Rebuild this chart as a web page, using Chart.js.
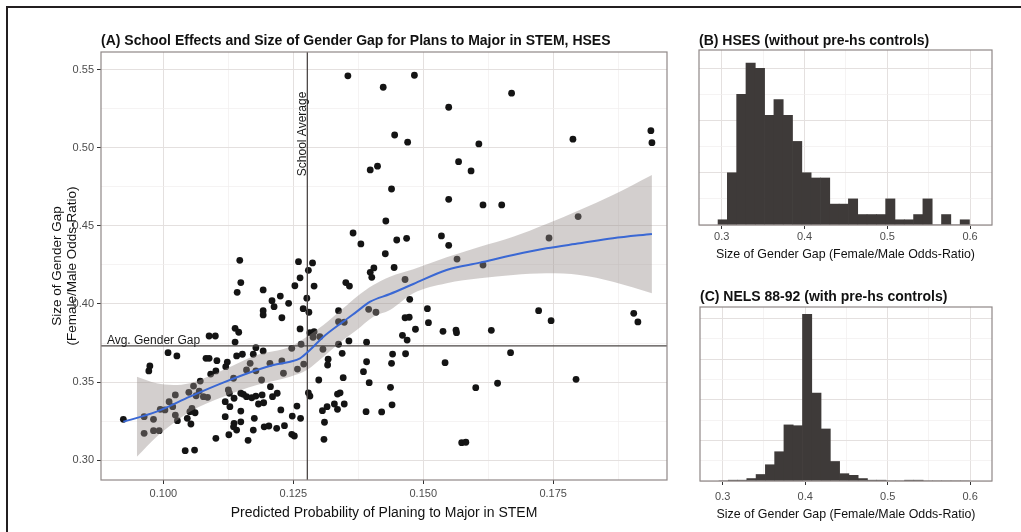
<!DOCTYPE html>
<html>
<head>
<meta charset="utf-8">
<script src="https://cdn.jsdelivr.net/npm/chart.js@4.4.1/dist/chart.umd.min.js"></script>
<style>
  html, body { margin: 0; padding: 0; background: #fff; }
  body { width: 1021px; height: 532px; position: relative; overflow: hidden; }
  canvas { position: absolute; }
  #frame { position: absolute; left: 6px; top: 6px; width: 1100px; height: 600px;
           border-left: 2.4px solid #231f20; border-top: 2.4px solid #231f20; }
</style>
</head>
<body>
<div id="frame"></div>
<canvas id="chartA" width="680" height="532" style="left:0;top:0"></canvas>
<canvas id="chartB" width="341" height="270" style="left:680px;top:0"></canvas>
<canvas id="chartC" width="341" height="262" style="left:680px;top:270px"></canvas>
<script>
// panel A: one point per school
const schoolX = [
  0.1355, 0.1423, 0.1398, 0.1412, 0.1439, 0.1428, 0.1365, 0.1380, 0.1427, 0.1147,
  0.1260, 0.1287, 0.1279, 0.1263, 0.1398, 0.1405, 0.1483, 0.1670, 0.1549, 0.1445,
  0.1470, 0.1607, 0.1788, 0.1938, 0.1940, 0.1568, 0.1592, 0.1549, 0.1615, 0.1651,
  0.1535, 0.1549, 0.1449, 0.1468, 0.1565, 0.1615, 0.1742, 0.1798, 0.1444, 0.1465,
  0.1474, 0.1508, 0.1510, 0.1465, 0.1473, 0.1485, 0.1460, 0.1469, 0.1538, 0.1563,
  0.1564, 0.1631, 0.1722, 0.1746, 0.1905, 0.1913, 0.1441, 0.1439, 0.1466, 0.1542,
  0.1668, 0.1794, 0.1437, 0.1601, 0.1643, 0.1440, 0.1420, 0.1574, 0.1582, 0.1253,
  0.1290, 0.1149, 0.1142, 0.1192, 0.1276, 0.1225, 0.1209, 0.1213, 0.1241, 0.1269,
  0.1280, 0.1192, 0.1192, 0.1228, 0.1401, 0.1351, 0.1358, 0.1337, 0.1395, 0.1409,
  0.1337, 0.1348, 0.1337, 0.1357, 0.1391, 0.1138, 0.1145, 0.1138, 0.1088, 0.1100,
  0.1263, 0.1282, 0.1290, 0.1301, 0.1288, 0.1265, 0.1247, 0.1192, 0.1178, 0.1173,
  0.1152, 0.1141, 0.1009, 0.1026, 0.0974, 0.0972, 0.1082, 0.1088, 0.1103, 0.1123,
  0.1120, 0.1101, 0.1091, 0.1307, 0.1317, 0.1316, 0.1344, 0.1270, 0.1258, 0.1231,
  0.1228, 0.1205, 0.1189, 0.1178, 0.1160, 0.1167, 0.1135, 0.1125, 0.1127, 0.1071,
  0.1058, 0.1049, 0.1063, 0.1077, 0.1085, 0.1069, 0.1055, 0.1051, 0.1023, 0.1011,
  0.1018, 0.1003, 0.0994, 0.0981, 0.0963, 0.0981, 0.0992, 0.0963, 0.0923, 0.1023,
  0.1027, 0.1046, 0.1053, 0.1061, 0.1042, 0.1060, 0.1101, 0.1126, 0.1119, 0.1119,
  0.1128, 0.1136, 0.1149, 0.1154, 0.1160, 0.1170, 0.1178, 0.1190, 0.1183, 0.1193,
  0.1210, 0.1219, 0.1206, 0.1149, 0.1136, 0.1135, 0.1141, 0.1149, 0.1175, 0.1173,
  0.1194, 0.1203, 0.1218, 0.1233, 0.1226, 0.1248, 0.1264, 0.1247, 0.1252, 0.1257,
  0.1163, 0.1279, 0.1282, 0.1299, 0.1306, 0.1310, 0.1309, 0.1315, 0.1329, 0.1335,
  0.1335, 0.1340, 0.1348, 0.1346, 0.1390, 0.1385, 0.1396, 0.1391
];
const schoolY = [
  0.5462, 0.5389, 0.4859, 0.4883, 0.4737, 0.4532, 0.4455, 0.4385, 0.4322, 0.4280,
  0.4271, 0.4263, 0.4216, 0.4168, 0.4203, 0.4231, 0.5466, 0.5351, 0.5261, 0.5083,
  0.5037, 0.5026, 0.5056, 0.5111, 0.5034, 0.4912, 0.4853, 0.4671, 0.4635, 0.4635,
  0.4436, 0.4376, 0.4410, 0.4421, 0.4288, 0.4250, 0.4423, 0.4560, 0.4234, 0.4157,
  0.4030, 0.3970, 0.3880, 0.3912, 0.3915, 0.3838, 0.3799, 0.3769, 0.3825, 0.3833,
  0.3816, 0.3831, 0.3957, 0.3893, 0.3940, 0.3885, 0.3679, 0.3620, 0.3681, 0.3624,
  0.3688, 0.3517, 0.3466, 0.3464, 0.3492, 0.3354, 0.3308, 0.3111, 0.3114, 0.4117,
  0.4115, 0.4137, 0.4075, 0.4090, 0.4037, 0.4051, 0.4021, 0.3983, 0.4004, 0.3970,
  0.3947, 0.3957, 0.3930, 0.3912, 0.4171, 0.4137, 0.4115, 0.3957, 0.3966, 0.3947,
  0.3887, 0.3883, 0.3742, 0.3763, 0.3755, 0.3844, 0.3819, 0.3756, 0.3795, 0.3795,
  0.3840, 0.3816, 0.3822, 0.3790, 0.3787, 0.3742, 0.3716, 0.3699, 0.3720, 0.3678,
  0.3678, 0.3667, 0.3688, 0.3667, 0.3603, 0.3571, 0.3652, 0.3652, 0.3637, 0.3628,
  0.3598, 0.3571, 0.3551, 0.3710, 0.3646, 0.3609, 0.3684, 0.3615, 0.3583, 0.3556,
  0.3635, 0.3620, 0.3513, 0.3572, 0.3577, 0.3620, 0.3524, 0.3449, 0.3428, 0.3506,
  0.3474, 0.3434, 0.3412, 0.3406, 0.3402, 0.3442, 0.3331, 0.3310, 0.3417, 0.3374,
  0.3342, 0.3321, 0.3325, 0.3261, 0.3278, 0.3188, 0.3188, 0.3171, 0.3261, 0.3288,
  0.3252, 0.3267, 0.3231, 0.3303, 0.3060, 0.3064, 0.3139, 0.3162, 0.3278, 0.3374,
  0.3342, 0.3396, 0.3428, 0.3421, 0.3406, 0.3399, 0.3410, 0.3417, 0.3359, 0.3367,
  0.3406, 0.3428, 0.3470, 0.3314, 0.3235, 0.3213, 0.3192, 0.3245, 0.3267, 0.3192,
  0.3213, 0.3218, 0.3203, 0.3220, 0.3321, 0.3282, 0.3267, 0.3165, 0.3154, 0.3346,
  0.3126, 0.3431, 0.3410, 0.3513, 0.3316, 0.3242, 0.3133, 0.3342, 0.3359, 0.3325,
  0.3423, 0.3431, 0.3359, 0.3528, 0.3310, 0.3566, 0.3496, 0.3630
];

// smoothed fit and its confidence band
const fitX = [0.0923, 0.0987, 0.1051, 0.1115, 0.1180, 0.1212, 0.1244, 0.1263, 0.1282, 0.1308, 0.1346,
              0.1372, 0.1398, 0.1436, 0.1481, 0.1545, 0.1609, 0.1673, 0.1737, 0.1801, 0.1865, 0.1940];
const fitY = [0.3245, 0.3310, 0.3406, 0.3496, 0.3577, 0.3609, 0.3630, 0.3652, 0.3705, 0.3790, 0.3887,
              0.3951, 0.4015, 0.4064, 0.4128, 0.4218, 0.4265, 0.4314, 0.4357, 0.4389, 0.4421, 0.4449];
const bandX = [0.0949, 0.0987, 0.1019, 0.1051, 0.1115, 0.1180, 0.1244, 0.1276, 0.1308, 0.1346, 0.1372,
               0.1404, 0.1436, 0.1481, 0.1545, 0.1609, 0.1673, 0.1737, 0.1801, 0.1865, 0.1940];
const bandHigh = [0.3534, 0.3492, 0.3481, 0.3492, 0.3577, 0.3673, 0.3726, 0.3790, 0.3865, 0.3972, 0.4047,
                  0.4122, 0.4175, 0.4222, 0.4299, 0.4367, 0.4431, 0.4513, 0.4603, 0.4699, 0.4827];
const bandLow = [0.3021, 0.3149, 0.3235, 0.3310, 0.3406, 0.3481, 0.3534, 0.3577, 0.3662, 0.3769, 0.3833,
                 0.3919, 0.3962, 0.4069, 0.4133, 0.4165, 0.4186, 0.4197, 0.4186, 0.4143, 0.4069];

const schoolAverage = 0.1277;
const avgGenderGap = 0.3731;

const xMajorA = [0.100, 0.125, 0.150, 0.175];
const xMinorA = [0.1125, 0.1375, 0.1625, 0.1875];
const yMajorA = [0.30, 0.35, 0.40, 0.45, 0.50, 0.55];
const yMinorA = [0.325, 0.375, 0.425, 0.475, 0.525];

// panels B and C: histograms on shared bins
const binCenters = [0.30113, 0.31238, 0.32363, 0.33488, 0.34613, 0.35738, 0.36863, 0.37988, 0.39113,
                    0.40238, 0.41363, 0.42488, 0.43613, 0.44738, 0.45863, 0.46988, 0.48113, 0.49238,
                    0.50363, 0.51488, 0.52613, 0.53738, 0.54863, 0.55988, 0.57113, 0.58238, 0.59363];
const hsesCounts = [1, 10, 25, 31, 30, 21, 24, 21, 16, 10, 9, 9, 4, 4, 5, 2, 2, 2, 5, 1, 1, 2, 5, 0, 2, 0, 1];
const nelsCounts = [0, 1, 1, 3, 8, 20, 36, 69, 68, 205, 108, 64, 24, 9, 7, 3, 1, 1, 0, 0, 1, 1, 0, 0, 0, 0, 0];

const xMajorH = [0.3, 0.4, 0.5, 0.6];
const xMinorH = [0.35, 0.45, 0.55];
const yGridB = [0, 5, 10, 15, 20, 25, 30];
const yMajorB = [0, 10, 20, 30];
const yGridC = [0, 25, 50, 75, 100, 125, 150, 175, 200];
const yMajorC = [0, 50, 100, 150, 200];

const FONT = "'Liberation Sans', Arial, Helvetica, sans-serif";
Chart.defaults.font.family = FONT;

const near = (v, arr) => arr.some(m => Math.abs(m - v) < 1e-9);
const gridColor = majors => c => (c.tick && near(c.tick.value, majors)) ? '#e4e0df' : '#f0eeee';
const gridWidth = majors => c => (c.tick && near(c.tick.value, majors)) ? 1 : 0.7;
const tickColor = majors => c => (c.tick && near(c.tick.value, majors)) ? '#333' : 'rgba(0,0,0,0)';

const decor = {
  id: 'decor',
  beforeDatasetDraw(chart, args, o) {
    // reference lines sit under the fitted line
    if (args.index !== 0 || o.vline === undefined) return;
    const {ctx, chartArea: a, scales: {x, y}} = chart;
    const px = x.getPixelForValue(o.vline);
    const py = y.getPixelForValue(o.hline);
    ctx.save();
    ctx.strokeStyle = '#4d4847';
    ctx.lineWidth = 1.3;
    ctx.beginPath();
    ctx.moveTo(px, a.top); ctx.lineTo(px, a.bottom);
    ctx.moveTo(a.left, py); ctx.lineTo(a.right, py);
    ctx.stroke();
    ctx.restore();
  },
  afterDatasetsDraw(chart, args, o) {
    if (o.vline === undefined) return;
    const {ctx, scales: {x, y}} = chart;
    const px = x.getPixelForValue(o.vline);
    const py = y.getPixelForValue(o.hline);
    ctx.save();
    ctx.fillStyle = '#1a1a1a';
    ctx.font = '12px ' + FONT;
    ctx.textAlign = 'center';
    ctx.textBaseline = 'alphabetic';
    ctx.fillText(o.hlineLabel, x.getPixelForValue(o.hlineLabelX), py - 2);
    ctx.translate(px - 1, y.getPixelForValue(o.vlineLabelY));
    ctx.rotate(-Math.PI / 2);
    ctx.fillText(o.vlineLabel, 0, 0);
    ctx.restore();
  },
  afterDraw(chart, args, o) {
    const {ctx, chartArea: a} = chart;
    ctx.save();
    ctx.strokeStyle = '#8f8887';
    ctx.lineWidth = 1.2;
    ctx.strokeRect(a.left, a.top, a.right - a.left, a.bottom - a.top);
    ctx.fillStyle = '#111';
    ctx.font = 'bold 14px ' + FONT;
    ctx.textAlign = 'left';
    ctx.textBaseline = 'alphabetic';
    ctx.fillText(o.title, a.left, a.top - o.titleGap);
    ctx.restore();
  }
};

new Chart(document.getElementById('chartA'), {
  type: 'scatter',
  data: {
    datasets: [
      {
        type: 'line',
        data: fitX.map((x, i) => ({x, y: fitY[i]})),
        borderColor: '#3a68d4',
        borderWidth: 2,
        pointRadius: 0,
        fill: false,
        cubicInterpolationMode: 'monotone'
      },
      {
        type: 'line',
        data: bandX.map((x, i) => ({x, y: bandHigh[i]})),
        borderColor: 'rgba(0,0,0,0)',
        borderWidth: 0,
        pointRadius: 0,
        fill: '+1',
        backgroundColor: 'rgba(150,141,139,0.42)',
        cubicInterpolationMode: 'monotone'
      },
      {
        type: 'line',
        data: bandX.map((x, i) => ({x, y: bandLow[i]})),
        borderColor: 'rgba(0,0,0,0)',
        borderWidth: 0,
        pointRadius: 0,
        fill: false,
        cubicInterpolationMode: 'monotone'
      },
      {
        type: 'scatter',
        data: schoolX.map((x, i) => ({x, y: schoolY[i]})),
        pointRadius: 3.4,
        pointHoverRadius: 3.4,
        backgroundColor: '#141414',
        borderWidth: 0
      }
    ]
  },
  options: {
    responsive: false,
    animation: false,
    events: [],
    layout: { padding: { top: 52, right: 13, bottom: 10, left: 50.5 } },
    plugins: {
      legend: { display: false },
      tooltip: { enabled: false },
      decor: {
        title: '(A) School Effects and Size of Gender Gap for Plans to Major in STEM, HSES',
        titleGap: 7,
        vline: schoolAverage,
        hline: avgGenderGap,
        vlineLabel: 'School Average',
        vlineLabelY: 0.509,
        hlineLabel: 'Avg. Gender Gap',
        hlineLabelX: 0.0981
      }
    },
    scales: {
      x: {
        type: 'linear',
        min: 0.0880,
        max: 0.1969,
        afterBuildTicks: ax => { ax.ticks = xMinorA.concat(xMajorA).sort().map(v => ({value: v})); },
        afterFit: s => { s.height = 42; },
        border: { display: false },
        grid: { color: gridColor(xMajorA), lineWidth: gridWidth(xMajorA), tickColor: tickColor(xMajorA), tickLength: 4, tickWidth: 1 },
        ticks: {
          autoSkip: false, maxRotation: 0, padding: 3, color: '#4d4d4d', font: { size: 11 },
          callback: v => near(v, xMajorA) ? v.toFixed(3) : ''
        },
        title: {
          display: true, text: 'Predicted Probability of Planing to Major in STEM',
          color: '#111', font: { size: 14 }, padding: { top: 0, bottom: 0 }
        }
      },
      y: {
        type: 'linear',
        min: 0.2872,
        max: 0.5615,
        afterBuildTicks: ax => { ax.ticks = yMinorA.concat(yMajorA).sort().map(v => ({value: v})); },
        afterFit: s => { s.width = 50.5; },
        border: { display: false },
        grid: { color: gridColor(yMajorA), lineWidth: gridWidth(yMajorA), tickColor: tickColor(yMajorA), tickLength: 4, tickWidth: 1 },
        ticks: {
          autoSkip: false, padding: 3, color: '#4d4d4d', font: { size: 11 },
          callback: v => near(v, yMajorA) ? v.toFixed(2) : ''
        },
        title: {
          display: true, text: ['Size of Gender Gap', '(Female/Male Odds-Ratio)'],
          color: '#111', font: { size: 13.5, lineHeight: 1.07 }, padding: { top: 0, bottom: 0 }
        }
      }
    }
  },
  plugins: [decor]
});

function histogram(id, counts, yMax, yGrid, yMajor, pad, xHeight, tickPad, title, titleGap) {
  return new Chart(document.getElementById(id), {
    type: 'bar',
    data: {
      datasets: [{
        data: binCenters.map((x, i) => ({x, y: counts[i]})),
        backgroundColor: '#3e3a39',
        borderWidth: 0,
        barPercentage: 1,
        categoryPercentage: 1
      }]
    },
    options: {
      responsive: false,
      animation: false,
      events: [],
      layout: { padding: pad },
      plugins: {
        legend: { display: false },
        tooltip: { enabled: false },
        decor: { title, titleGap }
      },
      scales: {
        x: {
          type: 'linear',
          min: 0.2725,
          max: 0.6265,
          offset: false,
          afterBuildTicks: ax => { ax.ticks = xMinorH.concat(xMajorH).sort().map(v => ({value: v})); },
          afterFit: s => { s.height = xHeight; },
          border: { display: false },
          grid: { offset: false, color: gridColor(xMajorH), lineWidth: gridWidth(xMajorH), tickColor: tickColor(xMajorH), tickLength: 4, tickWidth: 1 },
          ticks: {
            autoSkip: false, maxRotation: 0, padding: tickPad, color: '#4d4d4d', font: { size: 11 },
            callback: v => near(v, xMajorH) ? v.toFixed(1) : ''
          },
          title: {
            display: true, text: 'Size of Gender Gap (Female/Male Odds-Ratio)',
            color: '#111', font: { size: 12.4 }, padding: { top: 0, bottom: 0 }
          }
        },
        y: {
          type: 'linear',
          min: 0,
          max: yMax,
          afterBuildTicks: ax => { ax.ticks = yGrid.map(v => ({value: v})); },
          afterFit: s => { s.width = 0; },
          border: { display: false },
          grid: { color: gridColor(yMajor), lineWidth: gridWidth(yMajor), drawTicks: false },
          ticks: { display: false }
        }
      }
    },
    plugins: [decor]
  });
}

histogram('chartB', hsesCounts, 33.5, yGridB, yMajorB,
  { top: 50, right: 29, bottom: 8.4, left: 19 }, 36.6, 1,
  '(B) HSES (without pre-hs controls)', 5);
histogram('chartC', nelsCounts, 214, yGridC, yMajorC,
  { top: 37, right: 29, bottom: 10.4, left: 20 }, 40.6, 5,
  '(C) NELS 88-92 (with pre-hs controls)', 6);
</script>
</body>
</html>
